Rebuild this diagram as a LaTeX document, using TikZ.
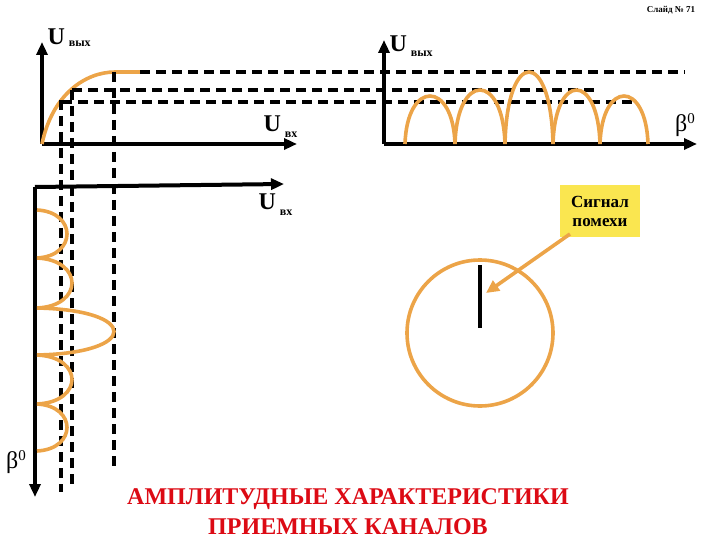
\documentclass[tikz,border=0pt]{standalone}
\usepackage{fontspec}
\setmainfont{Liberation Serif}
\begin{document}
\begin{tikzpicture}[x=1pt,y=-1pt,
  ax/.style={line width=4pt,-{Triangle[length=13pt,width=11pt]}},
  dsh/.style={line width=3.6pt,dash pattern=on 10pt off 6pt},
  crv/.style={line width=3.6pt,draw={rgb,255:red,236;green,164;blue,72}},
  lbl/.style={font=\bfseries\fontsize{24}{26}\selectfont},
]
\usetikzlibrary{arrows.meta}
\useasboundingbox (0,0) rectangle (720,540);
\node[font=\bfseries\fontsize{9}{10}\selectfont] (sl) at (671,10) {Слайд № 71};
% top-left
\coordinate (o1) at (42,144);
\draw[ax] (o1) -- (42,42);
\draw[ax] (o1) -- (297,144);
\draw[crv] (o1) .. controls (52,95) and (85,72) .. (115,72) -- (140,72);
\node[lbl,anchor=west] (l1) at (44,38) {U\,\raisebox{-2pt}{\fontsize{12}{12}\selectfont\bfseries вых}};
\node[lbl,anchor=west] (l2) at (260,127) {U\,\raisebox{-6pt}{\fontsize{12}{12}\selectfont\bfseries вх}};
% dashed
\draw[dsh] (140,72) -- (685,72);
\draw[dsh] (72,90) -- (600,90);
\draw[dsh] (62,102) -- (636,102);
\draw[dsh] (61,100) -- (61,492);
\draw[dsh] (72,90) -- (72,490);
\draw[dsh] (114,72) -- (114,472);
% top-right
\coordinate (o2) at (384,144);
\draw[ax] (o2) -- (384,40);
\draw[ax] (o2) -- (697,144);
\node[lbl,anchor=west] (l3) at (386,46) {U\,\raisebox{-5pt}{\fontsize{12}{12}\selectfont\bfseries вых}};
\node[font=\fontsize{24}{26}\selectfont] (b1) at (685,125) {β\raisebox{8pt}{\fontsize{15}{15}\selectfont 0}};
\foreach \a/\b/\h in {405/455/80,455/505/72,505/553/48,553/600/72,600/648/80}
  \draw[crv] (\a,144) .. controls (\a+2,\h) and (\b-2,\h) .. (\b,144);
% bottom-left
\coordinate (o3) at (35,187);
\draw[ax] (o3) -- (35,497);
\draw[ax] (o3) -- (284,184);
\node[lbl,anchor=west] (l4) at (255,205) {U\,\raisebox{-6pt}{\fontsize{12}{12}\selectfont\bfseries вх}};
\node[font=\fontsize{24}{26}\selectfont] (b2) at (16,462) {β\raisebox{8pt}{\fontsize{15}{15}\selectfont 0}};
\foreach \a/\b/\p in {210/258/67,258/308/72,308/355/114,355/404/72,404/451/67}
  \draw[crv] (37,\a) .. controls ({(4*\p-37)/3},\a+2) and ({(4*\p-37)/3},\b-2) .. (37,\b);
% circle
\draw[crv] (480,333) circle (73);
\coordinate (c0) at (480,328);
\draw[line width=4pt] (480,265) -- (c0);
\node[fill={rgb,255:red,250;green,230;blue,80},minimum width=80pt,minimum height=52pt,align=center,font=\bfseries\fontsize{17}{19}\selectfont] (sig) at (600,211) {Сигнал\\ помехи};
\coordinate (ah) at (486,293);
\draw[crv,-{Triangle[length=13pt,width=12pt]}] (570,234) -- (ah);
% title
\node[text={rgb,255:red,220;green,10;blue,20},font=\bfseries\fontsize{24}{30}\selectfont,align=center] (t) at (348,512) {АМПЛИТУДНЫЕ ХАРАКТЕРИСТИКИ\\ПРИЕМНЫХ КАНАЛОВ};
\end{tikzpicture}
\end{document}
